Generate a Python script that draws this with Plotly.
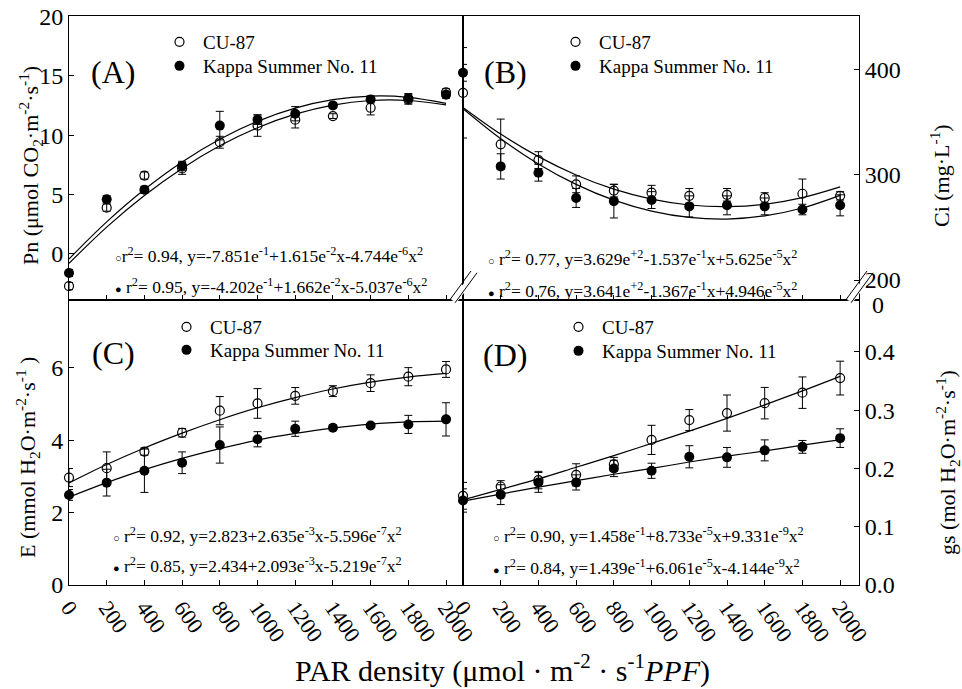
import plotly.graph_objects as go

# ---------------- data ----------------
par = [0, 200, 400, 600, 800, 1000, 1200, 1400, 1600, 1800, 2000]
par_ticks = ["0", "200", "400", "600", "800", "1000", "1200", "1400", "1600", "1800", "2000"]

pn_cu = [-2.7, 3.9, 6.6, 7.2, 9.4, 10.8, 11.3, 11.6, 12.3, 13.0, 13.6]
pn_cu_err = [0.3, 0.3, 0.3, 0.5, 0.5, 0.9, 0.7, 0.2, 0.6, 0.4, 0.3]
pn_kp = [-1.6, 4.6, 5.4, 7.4, 10.8, 11.3, 11.8, 12.5, 13.0, 13.1, 13.4]
pn_kp_err = [0.3, 0.3, 0.3, 0.4, 1.2, 0.4, 0.6, 0.2, 0.3, 0.4, 0.3]
fit_pn_cu = [-0.79, 2.26, 4.92, 7.20, 9.10, 10.62, 11.76, 12.53, 12.91, 12.91, 12.54]
fit_pn_kp = [-0.42, 2.70, 5.42, 7.74, 9.65, 11.16, 12.27, 12.98, 13.28, 13.18, 12.67]

ci_cu = [378, 329, 314, 291, 285, 283, 280, 281, 278, 282, 280]
ci_cu_err = [43, 24, 8, 8, 6, 7, 7, 6, 5, 14, 4]
ci_kp = [397, 308, 302, 278, 275, 276, 270, 271, 270, 267, 271]
ci_kp_err = [8, 12, 8, 9, 16, 8, 10, 9, 8, 5, 10]
fit_ci_cu = [362.9, 334.4, 310.4, 290.9, 275.9, 265.5, 259.5, 257.9, 261.0, 268.5, 280.5]
fit_ci_kp = [364.1, 338.7, 317.3, 299.9, 286.4, 276.9, 271.3, 269.7, 272.0, 278.3, 288.5]

e_cu = [2.97, 3.23, 3.69, 4.21, 4.82, 5.02, 5.23, 5.36, 5.58, 5.76, 5.96]
e_cu_err = [0.25, 0.45, 0.10, 0.12, 0.39, 0.41, 0.23, 0.15, 0.23, 0.25, 0.22]
e_kp = [2.49, 2.83, 3.16, 3.38, 3.87, 4.03, 4.32, 4.35, 4.41, 4.44, 4.58]
e_kp_err = [0.15, 0.37, 0.60, 0.30, 0.50, 0.21, 0.21, 0.07, 0.05, 0.25, 0.46]
fit_e_cu = [2.82, 3.33, 3.79, 4.20, 4.57, 4.90, 5.18, 5.42, 5.61, 5.75, 5.85]
fit_e_kp = [2.43, 2.83, 3.19, 3.50, 3.77, 4.01, 4.19, 4.34, 4.45, 4.51, 4.53]

gs_cu = [0.153, 0.169, 0.180, 0.189, 0.207, 0.249, 0.283, 0.295, 0.312, 0.330, 0.355]
gs_cu_err = [0.023, 0.010, 0.015, 0.019, 0.012, 0.025, 0.018, 0.031, 0.027, 0.027, 0.029]
gs_kp = [0.145, 0.155, 0.176, 0.176, 0.200, 0.196, 0.220, 0.219, 0.231, 0.237, 0.252]
gs_kp_err = [0.020, 0.017, 0.017, 0.013, 0.014, 0.013, 0.019, 0.017, 0.018, 0.011, 0.016]
fit_gs_cu = [0.146, 0.164, 0.182, 0.202, 0.222, 0.243, 0.264, 0.286, 0.309, 0.333, 0.358]
fit_gs_kp = [0.144, 0.156, 0.168, 0.179, 0.190, 0.200, 0.211, 0.221, 0.230, 0.240, 0.249]

series_names = ["CU-87", "Kappa Summer No. 11"]

OC = "<span style='font-size:11px'>○</span>"
FC = "<span style='font-size:11px'>●</span>"
eq_a = [OC + "r<sup>2</sup>= 0.94, y=-7.851e<sup>-1</sup>+1.615e<sup>-2</sup>x-4.744e<sup>-6</sup>x<sup>2</sup>",
        FC + " r<sup>2</sup>= 0.95, y=-4.202e<sup>-1</sup>+1.662e<sup>-2</sup>x-5.037e<sup>-6</sup>x<sup>2</sup>"]
eq_b = [OC + " r<sup>2</sup>= 0.77, y=3.629e<sup>+2</sup>-1.537e<sup>-1</sup>x+5.625e<sup>-5</sup>x<sup>2</sup>",
        FC + " r<sup>2</sup>= 0.76, y=3.641e<sup>+2</sup>-1.367e<sup>-1</sup>x+4.946e<sup>-5</sup>x<sup>2</sup>"]
eq_c = [OC + " r<sup>2</sup>= 0.92, y=2.823+2.635e<sup>-3</sup>x-5.596e<sup>-7</sup>x<sup>2</sup>",
        FC + " r<sup>2</sup>= 0.85, y=2.434+2.093e<sup>-3</sup>x-5.219e<sup>-7</sup>x<sup>2</sup>"]
eq_d = [OC + " r<sup>2</sup>= 0.90, y=1.458e<sup>-1</sup>+8.733e<sup>-5</sup>x+9.331e<sup>-9</sup>x<sup>2</sup>",
        FC + " r<sup>2</sup>= 0.84, y=1.439e<sup>-1</sup>+6.061e<sup>-5</sup>x-4.144e<sup>-9</sup>x<sup>2</sup>"]

# ---------------- layout helpers ----------------
W, H = 962, 689
L, R, T, B = 69, 859, 16, 585
MIDX, MIDY = 463, 300
FONT = "Liberation Serif"


def xp(px):
    return (px - L) / (R - L)


def yp(py):
    return (B - py) / (B - T)


fig = go.Figure()

# (xaxis, yaxis, legend for CU, legend for Kappa, data...)
panels = [
    ("x", "y", "legend", "legend2", pn_cu, pn_cu_err, pn_kp, pn_kp_err, fit_pn_cu, fit_pn_kp),
    ("x2", "y2", "legend3", "legend4", ci_cu, ci_cu_err, ci_kp, ci_kp_err, fit_ci_cu, fit_ci_kp),
    ("x3", "y3", "legend5", "legend6", e_cu, e_cu_err, e_kp, e_kp_err, fit_e_cu, fit_e_kp),
    ("x4", "y4", "legend7", "legend8", gs_cu, gs_cu_err, gs_kp, gs_kp_err, fit_gs_cu, fit_gs_kp),
]

for xa, ya, lg1, lg2, cu, cue, kp, kpe, fcu, fkp in panels:
    for fit in (fcu, fkp):
        fig.add_trace(go.Scatter(x=par, y=fit, xaxis=xa, yaxis=ya, mode="lines",
                                 line=dict(color="black", width=1.2, shape="spline"),
                                 showlegend=False, hoverinfo="skip", cliponaxis=False))
    fig.add_trace(go.Scatter(x=par, y=cu, xaxis=xa, yaxis=ya, mode="markers",
                             name=series_names[0], legend=lg1, cliponaxis=False,
                             marker=dict(symbol="circle-open", size=9, color="black",
                                         line=dict(width=1.2, color="black")),
                             error_y=dict(type="data", array=cue, color="black",
                                          thickness=1, width=4)))
    fig.add_trace(go.Scatter(x=par, y=kp, xaxis=xa, yaxis=ya, mode="markers",
                             name=series_names[1], legend=lg2, cliponaxis=False,
                             marker=dict(symbol="circle", size=10, color="black"),
                             error_y=dict(type="data", array=kpe, color="black",
                                          thickness=1, width=4)))

axis_common = dict(showline=True, linecolor="black", linewidth=1, mirror=True,
                   ticks="inside", ticklen=5, tickcolor="black", showgrid=False,
                   zeroline=False, tickfont=dict(family=FONT, size=24, color="black"))
xaxis_font = dict(family=FONT, size=22, color="black")

xl = [0, xp(MIDX)]
xr = [xp(MIDX), 1]
yt = [yp(MIDY), 1]
yb = [0, yp(MIDY)]

xr_range_l = [0, 2090]
xr_range_r = [0, 2100]

ax_x = {k: v for k, v in axis_common.items() if k != "tickfont"}
fig.update_layout(
    xaxis=dict(domain=xl, anchor="y", range=xr_range_l, tickvals=par, showticklabels=False, **ax_x),
    yaxis=dict(domain=yt, anchor="x", range=[-3.87, 20.02], tickvals=[0, 5, 10, 15, 20], **axis_common),
    xaxis2=dict(domain=xr, anchor="y2", range=xr_range_r, tickvals=par, showticklabels=False, **ax_x),
    yaxis2=dict(domain=yt, anchor="x2", side="right", range=[181, 451], tickvals=[200, 300, 400], **axis_common),
    xaxis3=dict(domain=xl, anchor="y3", range=xr_range_l, tickvals=par, ticktext=par_ticks, tickangle=55,
                tickfont=xaxis_font, **ax_x),
    yaxis3=dict(domain=yb, anchor="x3", range=[0, 7.88], tickvals=[0, 2, 4, 6], **axis_common),
    xaxis4=dict(domain=xr, anchor="y4", range=xr_range_r, tickvals=par, ticktext=par_ticks, tickangle=55,
                tickfont=xaxis_font, **ax_x),
    yaxis4=dict(domain=yb, anchor="x4", side="right", range=[0, 0.489], tickvals=[0, 0.1, 0.2, 0.3, 0.4],
                ticktext=["0.0", "0.1", "0.2", "0.3", "0.4"], **axis_common),
)

legend_common = dict(bgcolor="rgba(0,0,0,0)", font=dict(family=FONT, size=19, color="black"),
                     xanchor="left", yanchor="middle", tracegroupgap=0, itemwidth=37)
# legend item centres (marker x, row y) in pixels
leg_pos = {"legend": (176, 42), "legend2": (176, 66),
           "legend3": (572, 42), "legend4": (572, 66),
           "legend5": (183, 327), "legend6": (183, 350),
           "legend7": (575, 327), "legend8": (575, 351)}
fig.update_layout(**{k: dict(x=xp(mx - 20), y=yp(my), **legend_common) for k, (mx, my) in leg_pos.items()})

ann = []


def text(px, py, s, size, xanchor="center", angle=0, yanchor="middle"):
    ann.append(dict(x=xp(px), y=yp(py), xref="paper", yref="paper", text=s, showarrow=False,
                    xanchor=xanchor, yanchor=yanchor, textangle=angle,
                    font=dict(family=FONT, size=size, color="black")))


text(113, 72, "(A)", 32)
text(505, 72, "(B)", 32)
text(113, 353, "(C)", 32)
text(505, 355, "(D)", 32)

for (lx, y1, y2), eq in zip([(113, 255, 286), (486, 258, 290), (111, 535, 565), (491, 535, 567)],
                            [eq_a, eq_b, eq_c, eq_d]):
    text(lx, y1, eq[0], 17.5, xanchor="left")
    text(lx, y2, eq[1], 17.5, xanchor="left")

text(30, 166, "Pn (μmol CO<sub>2</sub>·m<sup>-2</sup>·s<sup>-1</sup>)", 22, angle=-90)
text(28, 458, "E (mmol H<sub>2</sub>O·m<sup>-2</sup>·s<sup>-1</sup> )", 22, angle=-90)
text(940, 176, "Ci (mg·L<sup>-1</sup>)", 22, angle=-90)
text(947, 462, "gs (mol H<sub>2</sub>O·m<sup>-2</sup>·s<sup>-1</sup>)", 22, angle=-90)
text(502, 668, "PAR density (μmol · m<sup>-2</sup> · s<sup>-1</sup><i>PPF</i>)", 30)
text(870, 305, "0", 24, xanchor="left")

shapes = []
for cx in (MIDX, R):
    # white gap in axis line
    shapes.append(dict(type="path", xref="paper", yref="paper",
                       path=f"M {xp(cx-12)} {yp(300)} L {xp(cx+8)} {yp(274)} L {xp(cx+14)} {yp(276)} L {xp(cx-6)} {yp(302)} Z",
                       fillcolor="white", line=dict(width=0)))
    for off in (0, 6):
        shapes.append(dict(type="line", xref="paper", yref="paper",
                           x0=xp(cx - 14 + off), y0=yp(301 + off * 0.3),
                           x1=xp(cx + 8 + off), y1=yp(271 + off * 0.3),
                           line=dict(color="black", width=1)))

fig.update_layout(
    width=W, height=H,
    margin=dict(l=L, r=W - R, t=T, b=H - B, autoexpand=False),
    paper_bgcolor="white", plot_bgcolor="white",
    annotations=ann, shapes=shapes,
    font=dict(family=FONT, color="black"),
)

fig.write_html("out.html", config={"displayModeBar": False},
               post_script="document.body.style.margin='0';document.body.style.overflow='hidden';")
